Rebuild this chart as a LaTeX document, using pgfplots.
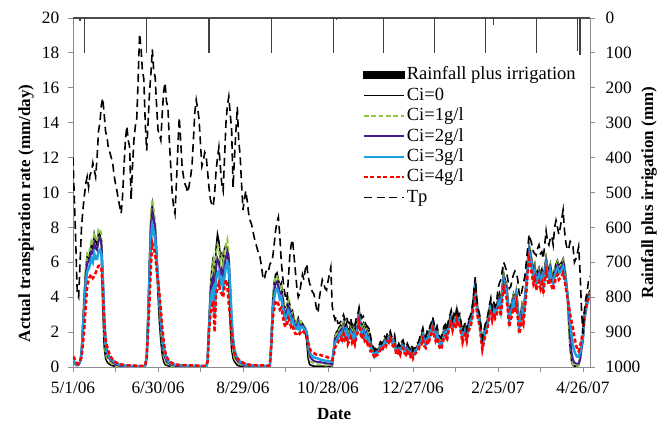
\documentclass[border=0pt]{standalone}
\usepackage{pgfplots}
\pgfplotsset{compat=1.18}
\usepackage{pgfplotstable}
\usepackage{fontspec}
\setmainfont{Liberation Serif}
\definecolor{cgreen}{HTML}{8DC63F}
\definecolor{cpurple}{HTML}{4B1A8C}
\definecolor{cblue}{HTML}{1BA1E2}
\definecolor{axgray}{HTML}{8C8C8C}
\pgfplotstableread{
day tp c0 c1 c2 c3 c4
0 12.0 0.30 0.30 0.35 0.40 0.60
1 9.5 0.20 0.20 0.25 0.30 0.50
2 7.0 0.10 0.12 0.15 0.20 0.30
3 4.2 0.08 0.10 0.12 0.15 0.20
4 4.0 0.12 0.12 0.15 0.18 0.20
5 6.0 0.30 0.30 0.30 0.30 0.35
6 8.0 0.90 0.85 0.80 0.70 0.55
7 9.0 2.60 2.50 2.30 2.00 1.30
8 9.8 4.20 4.10 3.80 3.40 2.20
9 10.5 5.60 5.60 5.20 4.70 3.50
10 10.9 6.30 6.50 6.00 5.50 4.60
11 10.3 6.20 6.40 6.00 5.60 5.00
12 11.0 6.60 6.80 6.30 5.90 5.20
13 11.2 7.00 7.20 6.60 6.20 5.30
14 11.7 6.80 7.00 6.50 6.00 5.10
15 11.3 7.60 7.70 7.10 6.50 5.20
16 10.9 7.20 7.30 6.80 6.20 5.40
17 12.0 7.00 7.20 6.70 6.20 5.60
18 13.5 7.70 7.90 7.20 6.60 5.80
19 14.0 7.60 7.90 7.40 6.70 5.80
20 15.0 7.00 7.60 7.20 6.50 5.70
21 15.4 3.50 5.00 5.50 5.20 4.50
22 14.5 1.20 2.00 2.80 3.00 2.50
23 13.5 0.50 0.80 1.30 1.50 1.60
24 13.2 0.30 0.50 0.80 1.00 1.20
25 12.5 0.20 0.35 0.55 0.70 0.90
26 12.3 0.15 0.28 0.45 0.55 0.70
27 12.0 0.10 0.20 0.35 0.45 0.55
28 11.7 0.08 0.15 0.28 0.38 0.42
29 11.0 0.05 0.10 0.20 0.30 0.35
30 10.5 0.04 0.08 0.16 0.25 0.28
31 10.1 0.03 0.05 0.12 0.20 0.24
32 9.6 0.03 0.05 0.10 0.16 0.20
33 9.2 0.03 0.04 0.08 0.13 0.17
34 8.8 0.02 0.04 0.07 0.11 0.15
35 9.8 0.02 0.03 0.06 0.10 0.13
36 11.5 0.02 0.03 0.06 0.09 0.12
37 13.0 0.02 0.03 0.05 0.08 0.11
38 13.8 0.02 0.03 0.05 0.08 0.10
39 13.0 0.02 0.03 0.05 0.07 0.10
40 12.6 0.02 0.03 0.05 0.07 0.09
41 9.6 0.02 0.02 0.04 0.06 0.09
42 11.5 0.02 0.02 0.04 0.06 0.08
43 13.0 0.02 0.02 0.04 0.06 0.08
44 13.8 0.02 0.02 0.04 0.06 0.08
45 14.2 0.02 0.02 0.04 0.05 0.08
46 16.5 0.02 0.02 0.04 0.05 0.07
47 19.1 0.02 0.02 0.04 0.05 0.07
48 18.3 0.02 0.02 0.03 0.05 0.07
49 17.0 0.02 0.02 0.03 0.05 0.07
50 16.5 0.02 0.02 0.03 0.05 0.07
51 14.0 0.10 0.10 0.10 0.10 0.10
52 12.4 0.60 0.60 0.55 0.55 0.50
53 14.0 3.00 3.00 2.80 2.50 2.00
54 15.7 6.00 6.20 5.70 5.00 3.80
55 16.8 8.50 8.80 8.00 7.20 5.80
56 18.2 9.30 9.60 8.90 8.10 7.10
57 17.0 8.60 9.00 8.50 7.80 6.80
58 16.6 7.60 8.30 8.00 7.30 6.50
59 15.0 6.00 6.80 6.60 6.20 5.60
60 13.6 4.20 5.00 5.00 5.00 4.90
61 13.3 2.60 3.40 3.60 3.90 4.20
62 13.0 1.50 2.20 2.50 2.80 3.30
63 14.5 0.70 1.20 1.50 1.90 2.30
64 15.8 0.30 0.60 0.90 1.20 1.50
65 16.3 0.15 0.35 0.55 0.75 0.90
66 15.2 0.10 0.20 0.35 0.50 0.60
67 14.9 0.07 0.15 0.27 0.38 0.45
68 13.0 0.05 0.10 0.20 0.28 0.35
69 11.5 0.04 0.08 0.15 0.22 0.28
70 10.0 0.03 0.06 0.12 0.18 0.22
71 9.2 0.03 0.05 0.10 0.15 0.19
72 8.8 0.03 0.05 0.09 0.13 0.16
73 10.5 0.02 0.04 0.08 0.12 0.14
74 12.5 0.02 0.04 0.07 0.11 0.13
75 14.3 0.02 0.04 0.07 0.10 0.12
76 13.0 0.02 0.03 0.06 0.09 0.11
77 11.5 0.02 0.03 0.06 0.09 0.11
78 10.9 0.02 0.03 0.06 0.08 0.10
79 10.5 0.02 0.03 0.05 0.08 0.10
80 10.3 0.02 0.03 0.05 0.08 0.10
81 10.0 0.02 0.03 0.05 0.07 0.09
82 10.4 0.02 0.03 0.05 0.07 0.09
83 10.9 0.02 0.03 0.05 0.07 0.09
84 11.5 0.02 0.02 0.04 0.07 0.09
85 13.0 0.02 0.02 0.04 0.06 0.08
86 14.6 0.02 0.02 0.04 0.06 0.08
87 15.3 0.02 0.02 0.04 0.06 0.08
88 14.8 0.02 0.02 0.04 0.06 0.08
89 14.2 0.02 0.02 0.04 0.06 0.08
90 12.8 0.02 0.02 0.04 0.06 0.08
91 11.5 0.02 0.02 0.04 0.05 0.07
92 11.8 0.02 0.02 0.04 0.05 0.07
93 12.3 0.02 0.02 0.03 0.05 0.07
94 12.1 0.02 0.02 0.03 0.05 0.07
95 11.2 0.30 0.30 0.30 0.30 0.30
96 10.3 2.50 2.50 2.30 2.20 2.00
97 9.6 4.50 4.40 4.00 3.60 3.00
98 9.3 5.60 5.50 4.90 4.30 3.40
99 9.2 6.30 6.00 5.20 4.50 3.80
100 10.0 4.50 4.20 3.50 2.80 2.00
101 11.2 6.80 6.50 5.70 5.00 4.20
102 12.0 7.60 7.00 6.20 5.40 4.50
103 12.6 7.20 6.80 6.00 5.50 4.80
104 11.5 6.30 6.00 5.30 4.80 4.30
105 10.5 6.50 6.30 5.60 5.00 4.20
106 10.1 6.00 5.80 5.00 4.50 4.00
107 12.0 6.80 6.60 5.80 5.20 4.60
108 14.0 7.00 7.00 6.30 5.80 5.00
109 15.0 6.80 7.30 6.60 6.00 4.60
110 15.5 5.00 6.50 6.20 5.70 3.60
111 14.5 2.50 4.00 4.50 4.50 2.80
112 13.6 1.00 1.80 2.50 2.80 1.90
113 10.3 0.50 0.90 1.30 1.60 1.30
114 12.0 0.30 0.50 0.80 1.00 0.80
115 13.5 0.20 0.35 0.50 0.70 0.60
116 14.9 0.10 0.25 0.35 0.50 0.50
117 13.0 0.07 0.20 0.30 0.40 0.42
118 12.1 0.05 0.15 0.25 0.30 0.35
119 10.5 0.04 0.12 0.20 0.25 0.30
120 9.0 0.03 0.10 0.15 0.20 0.25
121 9.6 0.03 0.08 0.12 0.17 0.21
122 10.1 0.03 0.07 0.10 0.15 0.18
123 9.5 0.02 0.06 0.09 0.13 0.16
124 8.8 0.02 0.05 0.08 0.11 0.14
125 8.4 0.02 0.05 0.07 0.10 0.13
126 8.2 0.02 0.04 0.07 0.09 0.12
127 7.8 0.02 0.04 0.06 0.09 0.11
128 7.4 0.02 0.04 0.06 0.08 0.11
129 7.1 0.02 0.03 0.06 0.08 0.10
130 6.8 0.02 0.03 0.05 0.08 0.10
131 6.5 0.02 0.03 0.05 0.07 0.10
132 6.3 0.02 0.03 0.05 0.07 0.09
133 5.8 0.02 0.03 0.05 0.07 0.09
134 5.2 0.02 0.03 0.05 0.07 0.09
135 5.0 0.02 0.03 0.04 0.06 0.09
136 5.4 0.02 0.03 0.04 0.06 0.08
137 5.6 0.02 0.03 0.04 0.06 0.08
138 5.5 0.02 0.03 0.04 0.06 0.08
139 5.9 0.10 0.10 0.10 0.10 0.10
140 6.0 1.50 1.50 1.40 1.30 1.20
141 6.3 3.80 3.70 3.40 3.10 2.80
142 7.0 4.80 4.70 4.30 3.90 3.30
143 7.8 5.30 5.20 4.80 4.40 3.70
144 8.3 5.40 5.20 4.90 4.50 3.80
145 8.6 5.00 4.90 4.60 4.30 3.60
146 7.5 4.60 4.50 4.20 3.90 3.30
147 6.1 4.80 4.60 4.30 4.00 3.40
148 5.2 4.10 4.00 3.80 3.50 3.00
149 4.5 3.60 3.50 3.30 3.00 2.50
150 4.0 3.20 3.10 2.90 2.70 2.30
151 3.8 3.50 3.40 3.20 2.90 2.40
152 5.0 3.90 3.80 3.50 3.20 2.80
153 6.3 3.60 3.50 3.30 3.00 2.60
154 7.0 3.00 3.00 2.80 2.60 2.30
155 7.3 3.20 3.10 2.90 2.70 2.40
156 6.4 2.80 2.80 2.60 2.40 2.10
157 5.5 2.50 2.50 2.30 2.20 1.90
158 4.6 2.60 2.60 2.40 2.20 1.90
159 4.0 2.80 2.80 2.60 2.40 2.00
160 4.2 2.40 2.40 2.30 2.10 1.90
161 4.8 2.60 2.60 2.40 2.30 2.00
162 5.3 2.50 2.50 2.40 2.30 2.10
163 5.0 2.30 2.40 2.30 2.20 2.00
164 5.6 2.00 2.20 2.20 2.10 1.90
165 5.9 1.50 2.00 2.00 2.00 1.80
166 5.2 0.50 1.20 1.30 1.40 1.40
167 4.8 0.15 0.50 0.70 0.90 1.10
168 4.6 0.10 0.30 0.50 0.70 0.90
169 4.3 0.07 0.25 0.42 0.62 0.85
170 4.2 0.05 0.20 0.35 0.55 0.80
171 3.8 0.05 0.18 0.32 0.52 0.75
172 3.3 0.05 0.15 0.30 0.50 0.70
173 3.1 0.05 0.15 0.30 0.48 0.70
174 4.0 0.05 0.15 0.30 0.45 0.70
175 4.5 0.05 0.13 0.27 0.42 0.68
176 5.0 0.05 0.12 0.25 0.40 0.65
177 4.8 0.04 0.11 0.24 0.38 0.62
178 4.5 0.03 0.10 0.22 0.35 0.60
179 4.4 0.03 0.10 0.21 0.35 0.58
180 4.9 0.03 0.10 0.20 0.35 0.55
181 5.3 0.03 0.09 0.19 0.32 0.50
182 5.7 0.03 0.08 0.18 0.30 0.45
183 3.5 0.03 0.08 0.15 0.30 0.40
184 3.0 1.00 1.00 1.00 0.90 0.60
185 2.7 1.80 1.70 1.60 1.40 1.10
186 2.9 2.00 1.90 1.70 1.50 1.30
187 2.5 2.10 1.95 1.80 1.65 1.40
188 2.5 2.30 2.15 2.00 1.85 1.60
189 2.6 2.40 2.25 2.10 1.95 1.70
190 2.8 2.10 1.95 1.80 1.65 1.40
191 3.0 2.60 2.45 2.30 2.15 1.90
192 2.7 2.30 2.15 2.00 1.85 1.60
193 2.9 2.50 2.35 2.20 2.05 1.80
194 2.6 2.00 1.85 1.70 1.55 1.30
195 2.5 2.20 2.05 1.90 1.75 1.50
196 2.8 2.40 2.25 2.10 1.95 1.70
197 2.4 2.10 1.95 1.80 1.65 1.40
198 2.6 2.30 2.15 2.00 1.85 1.60
199 2.4 2.00 1.85 1.70 1.55 1.30
200 2.8 2.40 2.25 2.10 1.95 1.70
201 3.0 2.70 2.55 2.40 2.25 2.00
202 3.4 3.30 3.15 3.00 2.85 2.60
203 3.1 2.60 2.45 2.30 2.15 1.90
204 2.8 2.30 2.15 2.00 1.85 1.60
205 2.9 2.50 2.35 2.20 2.05 1.80
206 2.6 2.20 2.05 1.90 1.75 1.50
207 2.4 2.30 2.15 2.00 1.85 1.60
208 2.3 2.00 1.85 1.70 1.55 1.30
209 2.2 2.10 1.95 1.80 1.65 1.40
210 1.8 1.60 1.45 1.30 1.15 0.90
211 1.35 1.20 1.15 1.10 1.02 0.90
212 1.15 1.00 0.95 0.90 0.82 0.70
213 0.95 0.80 0.75 0.70 0.62 0.50
214 1.15 1.00 0.95 0.90 0.82 0.70
215 1.15 1.00 0.95 0.90 0.82 0.70
216 1.25 1.10 1.05 1.00 0.92 0.80
217 1.45 1.30 1.25 1.20 1.12 1.00
218 1.35 1.20 1.15 1.10 1.02 0.90
219 1.55 1.40 1.35 1.30 1.22 1.10
220 1.75 1.60 1.55 1.50 1.42 1.30
221 1.65 1.50 1.45 1.40 1.32 1.20
222 1.95 1.80 1.75 1.70 1.62 1.50
223 1.85 1.70 1.65 1.60 1.52 1.40
224 2.05 1.90 1.85 1.80 1.72 1.60
225 1.75 1.60 1.55 1.50 1.42 1.30
226 1.65 1.50 1.45 1.40 1.32 1.20
227 1.85 1.70 1.65 1.60 1.52 1.40
228 1.25 1.10 1.05 1.00 0.92 0.80
229 1.15 1.00 0.95 0.90 0.82 0.70
230 1.35 1.20 1.15 1.10 1.02 0.90
231 1.15 1.00 0.95 0.90 0.82 0.70
232 1.45 1.30 1.25 1.20 1.12 1.00
233 1.55 1.40 1.35 1.30 1.22 1.10
234 1.25 1.10 1.05 1.00 0.92 0.80
235 1.15 1.00 0.95 0.90 0.82 0.70
236 1.35 1.20 1.15 1.10 1.02 0.90
237 1.15 1.00 0.95 0.90 0.82 0.70
238 1.05 0.90 0.85 0.80 0.72 0.60
239 1.25 1.10 1.05 1.00 0.92 0.80
240 0.95 0.80 0.75 0.70 0.62 0.50
241 1.15 1.00 0.95 0.90 0.82 0.70
242 1.25 1.10 1.05 1.00 0.92 0.80
243 1.35 1.20 1.15 1.10 1.02 0.90
244 1.45 1.30 1.25 1.20 1.12 1.00
245 1.75 1.60 1.55 1.50 1.42 1.30
246 1.95 1.80 1.70 1.60 1.50 1.30
247 2.25 2.10 2.00 1.90 1.80 1.60
248 1.85 1.70 1.60 1.50 1.40 1.20
249 1.75 1.60 1.50 1.40 1.30 1.10
250 2.05 1.90 1.80 1.70 1.60 1.40
251 1.95 1.80 1.70 1.60 1.50 1.30
252 2.35 2.20 2.10 2.00 1.90 1.70
253 2.55 2.40 2.30 2.20 2.10 1.90
254 2.85 2.70 2.60 2.50 2.40 2.20
255 2.45 2.30 2.20 2.10 2.00 1.80
256 2.15 2.00 1.90 1.80 1.70 1.50
257 2.35 2.20 2.10 2.00 1.90 1.70
258 1.95 1.80 1.70 1.60 1.50 1.30
259 1.75 1.60 1.50 1.40 1.30 1.10
260 1.65 1.50 1.40 1.30 1.20 1.00
261 2.05 1.90 1.80 1.70 1.60 1.40
262 2.35 2.20 2.10 2.00 1.90 1.70
263 2.45 2.30 2.20 2.10 2.00 1.80
264 2.15 2.00 1.90 1.80 1.70 1.50
265 2.65 2.50 2.40 2.30 2.20 2.00
266 2.95 2.80 2.70 2.60 2.50 2.30
267 3.25 3.10 3.00 2.90 2.80 2.60
268 2.75 2.60 2.50 2.40 2.30 2.10
269 3.05 2.90 2.80 2.70 2.60 2.40
270 2.85 2.70 2.60 2.50 2.40 2.20
271 3.45 3.30 3.20 3.10 3.00 2.80
272 2.95 2.80 2.70 2.60 2.50 2.30
273 3.05 2.90 2.80 2.70 2.60 2.40
274 2.55 2.40 2.30 2.20 2.10 1.90
275 2.05 1.90 1.80 1.70 1.60 1.40
276 2.35 2.20 2.10 2.00 1.90 1.70
277 2.55 2.40 2.30 2.20 2.10 1.90
278 2.15 2.00 1.90 1.80 1.70 1.50
279 2.65 2.50 2.40 2.30 2.20 2.00
280 2.85 2.70 2.60 2.50 2.40 2.20
281 3.05 2.90 2.80 2.70 2.60 2.40
282 3.55 3.40 3.30 3.20 3.10 2.90
283 4.35 4.20 4.10 4.00 3.90 3.70
284 5.15 5.00 4.90 4.80 4.70 4.50
285 3.95 3.80 3.70 3.60 3.50 3.30
286 3.35 3.20 3.10 3.00 2.90 2.70
287 3.05 2.90 2.80 2.70 2.60 2.40
288 2.35 2.20 2.10 2.00 1.90 1.70
289 1.65 1.50 1.40 1.30 1.20 1.00
290 2.05 1.90 1.80 1.70 1.60 1.40
291 2.45 2.30 2.20 2.10 2.00 1.80
292 2.65 2.50 2.40 2.30 2.20 2.00
293 3.05 2.90 2.80 2.70 2.60 2.40
294 3.55 3.40 3.30 3.20 3.10 2.90
295 3.95 3.80 3.70 3.60 3.50 3.30
296 3.35 3.20 3.10 3.00 2.90 2.70
297 3.75 3.60 3.50 3.40 3.30 3.10
298 3.45 3.30 3.20 3.10 3.00 2.80
299 3.65 3.50 3.40 3.30 3.20 3.00
300 4.5 3.90 3.80 3.70 3.60 3.40
301 4.8 4.20 4.10 3.95 3.75 3.40
302 5.0 3.70 3.60 3.45 3.25 2.90
303 5.5 4.60 4.50 4.35 4.15 3.80
304 6.0 5.40 5.30 5.15 4.95 4.60
305 5.8 5.00 4.90 4.75 4.55 4.20
306 5.5 4.80 4.70 4.55 4.35 4.00
307 5.0 4.00 3.90 3.75 3.55 3.20
308 4.5 3.10 3.00 2.85 2.65 2.30
309 4.6 3.50 3.40 3.25 3.05 2.70
310 5.0 3.80 3.70 3.55 3.35 3.00
311 5.3 4.20 4.10 3.95 3.75 3.40
312 5.5 3.90 3.80 3.65 3.45 3.10
313 5.4 4.40 4.30 4.15 3.95 3.60
314 5.0 3.60 3.50 3.35 3.15 2.80
315 4.2 2.70 2.60 2.45 2.25 1.90
316 4.0 3.00 2.90 2.75 2.55 2.20
317 4.4 3.60 3.50 3.35 3.15 2.80
318 4.8 3.30 3.20 3.05 2.85 2.50
319 5.2 4.10 4.00 3.85 3.65 3.30
320 6.0 5.00 4.90 4.75 4.55 4.20
321 6.8 6.20 6.10 5.95 5.75 5.40
322 7.6 7.00 6.90 6.75 6.55 6.20
323 7.3 6.60 6.50 6.35 6.15 5.80
324 7.0 6.10 6.00 5.85 5.65 5.30
325 6.6 5.60 5.50 5.35 5.15 4.80
326 6.5 5.90 5.80 5.65 5.45 5.10
327 6.4 5.20 5.10 4.95 4.75 4.40
328 6.8 5.50 5.40 5.25 5.05 4.70
329 7.0 5.70 5.60 5.45 5.25 4.90
330 6.5 5.30 5.20 5.05 4.85 4.50
331 6.6 5.60 5.50 5.35 5.15 4.80
332 6.2 5.00 4.90 4.75 4.55 4.20
333 7.0 5.70 5.60 5.45 5.25 4.90
334 7.8 6.30 6.20 6.05 5.85 5.50
335 7.2 5.80 5.70 5.55 5.35 5.00
336 7.0 5.50 5.40 5.25 5.05 4.70
337 7.4 5.90 5.80 5.65 5.45 5.10
338 7.5 5.40 5.30 5.15 4.95 4.60
339 7.0 5.20 5.10 4.95 4.75 4.40
340 8.0 5.60 5.50 5.35 5.15 4.80
341 8.4 5.90 5.80 5.65 5.45 5.10
342 8.0 6.10 6.00 5.85 5.65 5.30
343 7.6 5.80 5.70 5.55 5.35 5.00
344 8.0 5.90 5.80 5.65 5.45 5.10
345 8.5 6.00 5.90 5.75 5.55 5.20
346 9.0 6.20 6.10 5.95 5.75 5.40
347 7.8 5.80 5.70 5.50 5.30 5.00
348 7.1 5.20 5.10 5.00 4.80 4.50
349 6.7 4.20 4.20 4.30 4.20 4.00
350 6.8 2.40 2.60 3.20 3.50 3.50
351 7.2 1.00 1.20 1.80 2.60 3.00
352 7.1 0.30 0.40 0.80 1.80 2.60
353 6.9 0.10 0.15 0.40 1.20 2.20
354 6.0 0.05 0.08 0.25 0.90 1.70
355 6.2 0.05 0.06 0.20 0.70 1.30
356 6.5 0.05 0.06 0.20 0.60 1.00
357 6.9 0.10 0.10 0.20 0.60 0.90
358 5.4 0.60 0.50 0.40 0.80 1.20
359 3.3 1.50 1.40 1.00 1.30 1.60
360 1.9 1.80 1.70 1.50 1.70 2.00
361 3.2 3.00 2.90 2.70 2.70 2.90
362 3.9 3.50 3.40 3.30 3.20 3.40
363 4.3 3.90 3.80 3.70 3.60 3.70
364 5.0 4.20 4.10 4.00 3.90 4.00
365 5.2 4.40 4.30 4.20 4.10 4.20
}\tdata
\pgfplotstableread{
day r
5 10
8 100
52 100
96 100
134 3
136 3
140 100
157 3
184 100
186 5
219 100
229 3
255 100
291 100
297 20
312 3
327 100
356 95
358 105
}\rain
\begin{document}
\begin{tikzpicture}
\path[use as bounding box] (0pt,0pt) rectangle (499.5pt,317.25pt);
\begin{axis}[
  at={(54.75pt,42pt)}, anchor=south west,
  width=387.75pt, height=261.75pt, scale only axis,
  xmin=0, xmax=365, ymin=0, ymax=20,
  axis x line*=bottom, axis y line*=left,
  axis line style={draw=axgray, line width=0.7pt},
  xtick={0,60,120,180,240,300,360},
  xticklabels={5/1/06,6/30/06,8/29/06,10/28/06,12/27/06,2/25/07,4/26/07},
  minor xtick={30,90,150,210,270,330},
  ytick={0,2,...,20},
  tick align=outside,
  major tick length=3.75pt, minor tick length=3.75pt,
  tick style={draw=axgray, line width=0.6pt},
  tick label style={font=\fontsize{13}{15}\selectfont, text=black},
  xticklabel style={yshift=-4pt},
  yticklabel style={xshift=-3pt},
  /pgf/number format/assume math mode=true,
  /pgf/number format/1000 sep={},
  xlabel={Date}, ylabel={Actual transpiration rate (mm/day)},
  every axis x label/.style={at={(axis description cs:0.505,-0.135)}, anchor=center, font=\fontsize{12.75}{14}\selectfont\bfseries},
  every axis y label/.style={at={(axis description cs:-0.091,0.44)}, rotate=90, anchor=center, font=\fontsize{12.75}{14}\selectfont\bfseries},
]
\addplot[black, line width=1.2pt] table[x=day,y=c0]{\tdata};
\addplot[cgreen, line width=1.5pt, dash pattern=on 3.5pt off 2pt] table[x=day,y=c1]{\tdata};
\addplot[cpurple, line width=1.5pt] table[x=day,y=c2]{\tdata};
\addplot[cblue, line width=1.9pt] table[x=day,y=c3]{\tdata};
\addplot[red, line width=1.9pt, dash pattern=on 3pt off 1.8pt] table[x=day,y=c4]{\tdata};
\addplot[black, line width=1.2pt, dash pattern=on 6pt off 3.5pt] table[x=day,y=tp]{\tdata};
\end{axis}
\begin{axis}[
  at={(54.75pt,42pt)}, anchor=south west,
  width=387.75pt, height=261.75pt, scale only axis,
  xmin=0, xmax=365, ymin=0, ymax=1000, y dir=reverse,
  axis y line*=right, axis x line*=top,
  x axis line style={draw=black!70, line width=0.8pt},
  y axis line style={draw=axgray, line width=0.7pt},
  xtick=\empty, ytick={0,100,...,1000},
  tick align=outside, major tick length=3.75pt,
  tick style={draw=axgray, line width=0.6pt},
  tick label style={font=\fontsize{13}{15}\selectfont, text=black},
  yticklabel style={xshift=4.5pt},
  /pgf/number format/assume math mode=true,
  /pgf/number format/1000 sep={},
  ylabel={Rainfall plus irrigation (mm)},
  every axis y label/.style={at={(axis description cs:1.114,0.5)}, rotate=90, anchor=center, font=\fontsize{12.75}{14}\selectfont\bfseries},
  legend image code/.code={\draw[#1] (0pt,0pt) -- (30pt,0pt);},
  legend cell align=left,
  legend style={at={(0.56,0.866)}, anchor=north west, draw=none, fill=none,
    font=\fontsize{13.9}{15}\selectfont, inner sep=0pt, row sep=0pt,
    nodes={inner sep=1.15pt, text height=10pt, text depth=3pt}},
]
\addplot[ycomb, draw=black!75, line width=0.9pt,
  legend image code/.code={\fill[black] (0pt,-2.4pt) rectangle (30pt,2.4pt);}] table[x=day,y=r]{\rain};
\addlegendentry{Rainfall plus irrigation}
\addlegendimage{black, line width=1.2pt}
\addlegendentry{Ci=0}
\addlegendimage{cgreen, line width=1.5pt, dash pattern=on 3.5pt off 2pt}
\addlegendentry{Ci=1g/l}
\addlegendimage{cpurple, line width=1.5pt}
\addlegendentry{Ci=2g/l}
\addlegendimage{cblue, line width=1.9pt}
\addlegendentry{Ci=3g/l}
\addlegendimage{red, line width=1.9pt, dash pattern=on 3pt off 1.8pt}
\addlegendentry{Ci=4g/l}
\addlegendimage{black, line width=1.2pt, dash pattern=on 6pt off 3.5pt}
\addlegendentry{Tp}
\end{axis}
\end{tikzpicture}
\end{document}
